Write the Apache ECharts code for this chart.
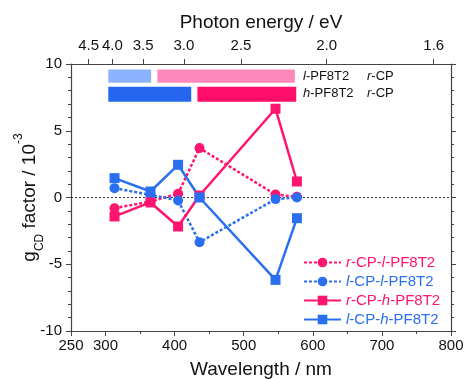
<!DOCTYPE html>
<html>
<head>
<meta charset="utf-8">
<script src="https://cdn.jsdelivr.net/npm/echarts@6/dist/echarts.min.js"></script>
<style>html,body{margin:0;padding:0;background:#fff}#c{width:464px;height:379px}</style>
</head>
<body>
<div id="c"></div>
<script>
// ---- data ----
const wavelengths = [313, 365, 405, 436, 546, 577];
const rCP_lPF = [-0.8, -0.3, 0.28, 3.7, 0.22, 0.05];
const lCP_lPF = [0.7, 0.2, -0.22, -3.35, -0.12, 0.0];
const rCP_hPF = [-1.42, -0.37, -2.17, 0.15, 6.65, 1.2];
const lCP_hPF = [1.45, 0.45, 2.45, 0.0, -6.17, -1.55];
const seriesNames = ['r-CP-l-PF8T2', 'l-CP-l-PF8T2', 'r-CP-h-PF8T2', 'l-CP-h-PF8T2'];
const energyTicks = [4.5, 4.0, 3.5, 3.0, 2.5, 2.0, 1.6];
const wlLabels = [250, 300, 400, 500, 600, 700, 800];
const wlMinor = [350, 450, 550, 650, 750];
// wavelength ranges of the top bands: [start, end, row]
const bandsLight = [[304, 366, 0], [375, 574, 0]];
const bandsDark = [[304, 424, 1], [433, 576, 1]];

const PINK = '#FF1470', BLUE = '#2A6FF0';
const FONT = '"Liberation Sans", Arial, sans-serif';
const rowY = [[9.58, 8.6], [8.3, 7.18]];
const bandColors = [['#8CB3FF', '#FF88BB'], ['#2467EE', '#FF0D6A']];

const chart = echarts.init(document.getElementById('c'));
const pair = arr => wavelengths.map((w, i) => [w, arr[i]]);

function bandSeries(data) {
  return {
    type: 'custom', xAxisIndex: 0, yAxisIndex: 0, silent: true, z: 1,
    data: data,
    renderItem: function (params, api) {
      const row = api.value(2);
      const p0 = api.coord([api.value(0), rowY[row][0]]);
      const p1 = api.coord([api.value(1), rowY[row][1]]);
      return {
        type: 'rect',
        shape: { x: p0[0], y: p0[1], width: p1[0] - p0[0], height: p1[1] - p0[1] },
        style: { fill: bandColors[row][params.dataIndex] }
      };
    }
  };
}

function lineSeries(name, data, color, dashed, symbol) {
  return {
    name: name, type: 'line', data: pair(data), xAxisIndex: 0, yAxisIndex: 0,
    symbol: symbol, symbolSize: 10,
    lineStyle: { color: color, width: 2.5, type: dashed ? [3, 2] : 'solid' },
    itemStyle: { color: color },
    z: 3
  };
}

const italicName = n => n.replace(/^(\w)-CP-(\w)-/, '{i|$1}-CP-{i|$2}-');
const legendColors = [PINK, BLUE, PINK, BLUE];

const series = [
  bandSeries(bandsLight),
  bandSeries(bandsDark),
  lineSeries(seriesNames[0], rCP_lPF, PINK, true, 'circle'),
  lineSeries(seriesNames[1], lCP_lPF, BLUE, true, 'circle'),
  lineSeries(seriesNames[2], rCP_hPF, PINK, false, 'rect'),
  lineSeries(seriesNames[3], lCP_hPF, BLUE, false, 'rect')
];
series[2].markLine = {
  silent: true, symbol: 'none', label: { show: false },
  lineStyle: { color: '#333', width: 1, type: [2, 2] },
  data: [{ yAxis: 0 }], z: 2
};

const axisLineStyle = { color: '#444', width: 1.2 };
const LBL = 15, TTL = 19;
const bandText = t => ({
  text: t, fill: '#111', font: '13px ' + FONT,
  rich: { i: { fontStyle: 'italic', fontSize: 13, fontFamily: FONT, fill: '#111' } }
});

chart.setOption({
  animation: false,
  textStyle: { fontFamily: FONT },
  grid: { left: 71, right: 13, top: 64, bottom: 48, containLabel: false, outerBoundsMode: 'none' },
  xAxis: [
    {
      type: 'value', position: 'bottom', min: 250, max: 800,
      splitLine: { show: false },
      axisLine: { onZero: false, lineStyle: axisLineStyle },
      axisTick: { customValues: wlLabels, length: 5, lineStyle: { color: '#444' } },
      axisLabel: { customValues: wlLabels, color: '#111', fontSize: LBL, margin: 7, fontFamily: FONT },
      name: 'Wavelength / nm', nameLocation: 'middle', nameGap: 29, nameMoveOverlap: false,
      nameTextStyle: { fontSize: TTL, color: '#111', fontFamily: FONT }
    },
    {
      type: 'value', position: 'top', min: 250, max: 800,
      splitLine: { show: false },
      axisLine: { onZero: false, lineStyle: axisLineStyle },
      axisTick: { customValues: energyTicks.map(e => 1240 / e), length: 5, lineStyle: { color: '#444' } },
      axisLabel: {
        customValues: energyTicks.map(e => 1240 / e), color: '#111', fontSize: LBL, margin: 11, fontFamily: FONT,
        formatter: v => (1240 / v).toFixed(1)
      },
      name: 'Photon energy / eV', nameLocation: 'middle', nameGap: 32, nameMoveOverlap: false,
      nameTextStyle: { fontSize: TTL, color: '#111', fontFamily: FONT }
    },
    {
      type: 'value', position: 'bottom', min: 250, max: 800,
      splitLine: { show: false },
      axisLine: { show: false, onZero: false },
      axisTick: { customValues: wlMinor, length: 3, lineStyle: { color: '#444' } },
      axisLabel: { show: false }
    }
  ],
  yAxis: [
    {
      type: 'value', position: 'left', min: -10, max: 10, interval: 5,
      splitLine: { show: false },
      axisLine: { onZero: false, lineStyle: axisLineStyle },
      axisTick: { length: 5, lineStyle: { color: '#444' } },
      minorTick: { show: true, splitNumber: 5, length: 3, lineStyle: { color: '#444' } },
      axisLabel: { color: '#111', fontSize: LBL, margin: 9, fontFamily: FONT },
      name: '{n|g}{sub|CD}{n| factor / 10}{sup|-3}', nameLocation: 'middle', nameGap: 32, nameMoveOverlap: false,
      nameTextStyle: {
        fontSize: TTL, color: '#111', fontFamily: FONT,
        rich: {
          n: { fontSize: TTL, color: '#111', fontFamily: FONT },
          sub: { fontSize: 12, color: '#111', fontFamily: FONT, verticalAlign: 'bottom', padding: [0, 0, -7, 0] },
          sup: { fontSize: 12, color: '#111', fontFamily: FONT, verticalAlign: 'top', padding: [-7, 0, 0, 0] }
        }
      }
    },
    {
      type: 'value', position: 'right', min: -10, max: 10, interval: 5,
      splitLine: { show: false },
      axisLine: { onZero: false, lineStyle: axisLineStyle },
      axisTick: { length: 5, lineStyle: { color: '#444' } },
      minorTick: { show: true, splitNumber: 5, length: 3, lineStyle: { color: '#444' } },
      axisLabel: { show: false }
    }
  ],
  legend: {
    orient: 'vertical', left: 298, top: 250, padding: 5, itemWidth: 37, itemHeight: 12, itemGap: 4,
    data: seriesNames.map((n, i) => ({
      name: n,
      textStyle: {
        color: legendColors[i], fontSize: LBL, fontFamily: FONT,
        rich: { i: { fontStyle: 'italic', color: legendColors[i], fontSize: LBL, fontFamily: FONT } }
      }
    })),
    formatter: italicName,
    textStyle: { fontSize: LBL, fontFamily: FONT }
  },
  graphic: [
    { type: 'text', left: 303, top: 70, style: bandText('{i|l}-PF8T2') },
    { type: 'text', left: 367, top: 70, style: bandText('{i|r}-CP') },
    { type: 'text', left: 303, top: 87, style: bandText('{i|h}-PF8T2') },
    { type: 'text', left: 367, top: 87, style: bandText('{i|r}-CP') }
  ],
  series: series
});
</script>
</body>
</html>
